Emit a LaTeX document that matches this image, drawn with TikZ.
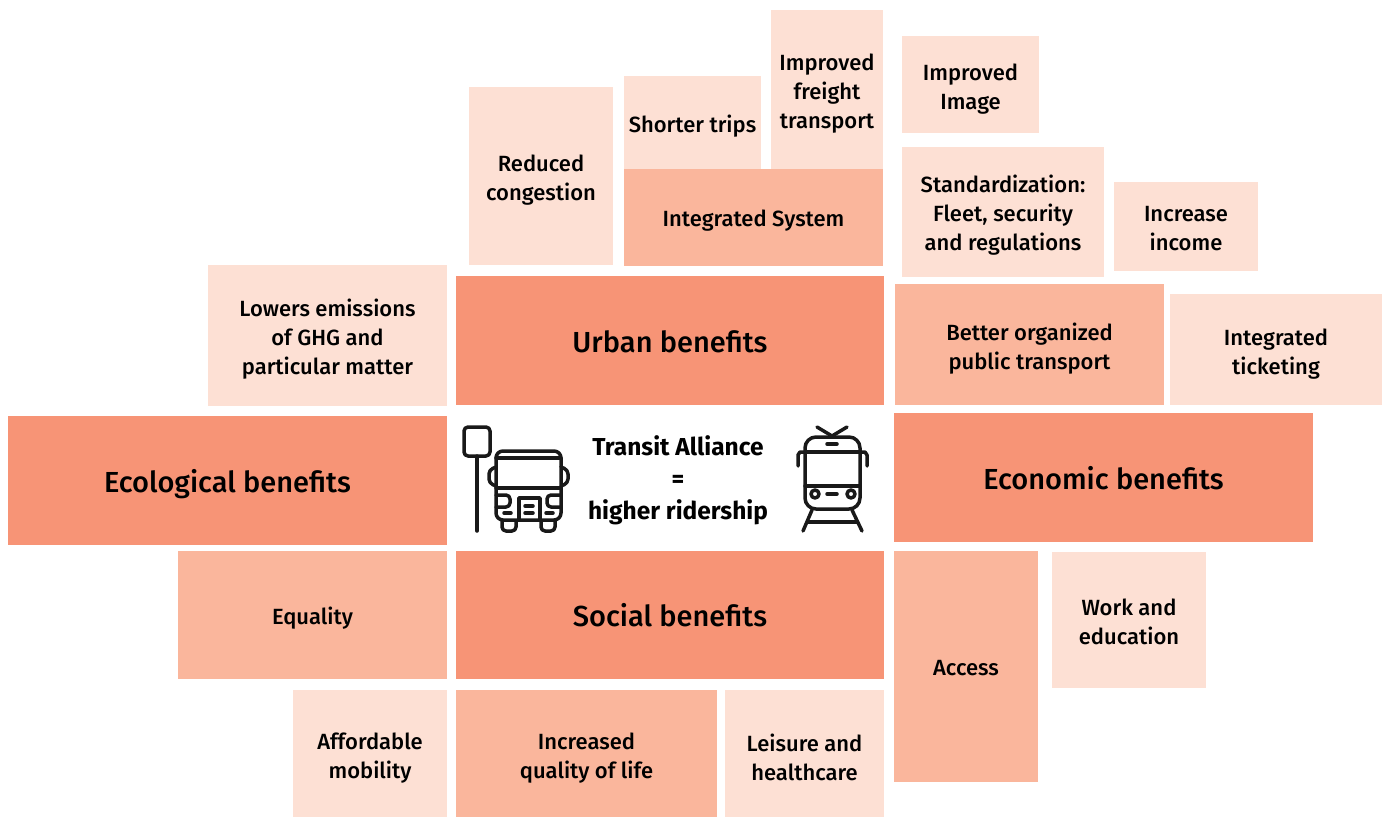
\documentclass[tikz,border=0pt]{standalone}
\usepackage{fontspec}
\setmainfont{Fira Sans Medium}[BoldFont={Fira Sans Bold}]
\usetikzlibrary{positioning}
\definecolor{topcol}{RGB}{247,148,118}
\definecolor{midcol}{RGB}{250,182,156}
\definecolor{lowcol}{RGB}{253,224,212}
\tikzset{
    block/.style 2 args={
           rectangle,
           minimum width=#1pt,
           minimum height=#2pt,
           inner sep=0pt,
           outer sep=0pt,
           align=center,
           text=black,
           },
    drop/.style={execute at begin node={\rule{0pt}{#1pt}}},
    topbox/.style={fill=topcol, font=\fontsize{29}{36}\selectfont},
    midbox/.style={fill=midcol, font=\fontsize{22}{29}\selectfont},
    lowbox/.style={fill=lowcol, font=\fontsize{22}{29}\selectfont},
    icon/.style={draw=black!90, line width=3.5pt, line cap=round, line join=round},
}

\begin{document}
\begin{tikzpicture}[x=1pt,y=-1pt]
    \useasboundingbox (0,0) rectangle (1386,817);
    \node[topbox,block={428}{129},drop=24] (urban) at (670,340.5) {Urban benefits};
    \node[topbox,block={439}{129},drop=31] (ecological) [below left=11pt and 9pt of urban.south west] {Ecological benefits};
    \node[topbox,block={419}{129},drop=23.5] (economic) [below right=8pt and 10pt of urban.south east] {Economic benefits};
    \node[topbox,block={428}{128},drop=23.5] (social) [below right=6pt and 9pt of ecological.south east] {Social benefits};

    \node[midbox,block={259}{97},drop=22] (integrated) [above left=10pt and 1pt of urban.north east] {Integrated System};
    \node[lowbox,block={112}{159},drop=82] (freight) [above left=0pt and 0pt of integrated.north east] {Improved\\freight\\transport};
    \node[lowbox,block={137}{93},drop=24] (shorter) [above right=0pt and 0pt of integrated.north west] {Shorter trips};
    \node[lowbox,block={144}{178},drop=54] (congestion) [above left=1pt and 11pt of integrated.south west] {Reduced\\congestion};
    \node[lowbox,block={239}{141},drop=82] (emissions) [above left=-1pt and 9pt of urban.south west] {Lowers emissions\\of GHG and\\particular matter};

    \node[midbox,block={269}{121},drop=54] (organized) [above right=8pt and 1pt of economic.north west] {Better organized\\public transport};
    \node[lowbox,block={212}{111},drop=54] (ticketing) [above right=0pt and 6pt of organized.south east] {Integrated\\ticketing};
    \node[lowbox,block={202}{130},drop=81] (standard) [above right=7pt and 7pt of organized.north west] {Standardization:\\Fleet, security\\and regulations};
    \node[lowbox,block={137}{97},drop=54] (image) [above right=14pt and 0pt of standard.north west] {Improved\\Image};
    \node[lowbox,block={144}{89},drop=48] (income) [above right=6pt and 10pt of standard.south east] {Increase\\income};

    \node[midbox,block={269}{128},drop=24] (equality) [below left=6pt and 0pt of ecological.south east] {Equality};
    \node[lowbox,block={154}{127},drop=54] (affordable) [below left=11pt and 0pt of equality.south east] {Affordable\\mobility};
    \node[midbox,block={261}{127},drop=54] (quality) [below right=11pt and 0pt of social.south west] {Increased\\quality of life};
    \node[lowbox,block={159}{127},drop=54] (leisure) [below left=11pt and 0pt of social.south east] {Leisure and\\healthcare};
    \node[midbox,block={144}{231},drop=18] (access) [below right=9pt and 0pt of economic.south west] {Access};
    \node[lowbox,block={154}{136},drop=50] (work) [below right=1pt and 14pt of access.north east] {Work and\\education};

    \node[align=center, inner sep=0pt, font=\fontsize{24.5}{32}\selectfont\bfseries] (alliance) at (678,480) {Transit Alliance\\=\\higher ridership};

    \draw[icon, rounded corners=4pt] (464,427) rectangle (490,456);
    \draw[icon] (477,456) -- (477,531);
    \draw[icon, rounded corners=7pt] (496,520) -- (496,451) -- (561,451) -- (561,520) -- cycle;
    \draw[icon] (496,458) -- (561,458);
    \draw[icon] (496,488) -- (561,488);
    \draw[icon, rounded corners=4pt] (496,467) -- (489,470) -- (489,483) -- (496,486);
    \draw[icon, rounded corners=4pt] (561,467) -- (568,470) -- (568,483) -- (561,486);
    \draw[icon, rounded corners=4pt] (502,521) -- (502,531) -- (516,531) -- (516,521);
    \draw[icon, rounded corners=4pt] (541,521) -- (541,531) -- (555,531) -- (555,521);
    \draw[icon] (519,520) -- (519,498) -- (540,498) -- (540,520);
    \draw[icon] (525,506) -- (533,506);
    \draw[icon] (525,513) -- (533,513);
    \draw[icon] (504,513) -- (511,513);
    \draw[icon] (546,513) -- (553,513);
    \draw[icon, rounded corners=4pt] (496,495) -- (510,495) -- (510,507) -- (496,507);
    \draw[icon, rounded corners=4pt] (561,495) -- (547,495) -- (547,507) -- (561,507);

    \draw[icon, rounded corners=11pt] (805,452) -- (805,437) -- (860,437) -- (860,509) -- (805,509) -- (805,452);
    \draw[icon] (805,452) -- (860,452);
    \draw[icon] (805,486) -- (860,486);
    \draw[icon] (798,466) -- (798,455) -- (800,452) -- (805,452);
    \draw[icon] (867,466) -- (867,455) -- (865,452) -- (860,452);
    \draw[icon] (817,427) -- (832,436) -- (847,427);
    \draw[icon] (827,444) -- (837,444);
    \draw[icon] (827,494) -- (837,494);
    \draw[icon] (815,494) circle (4pt);
    \draw[icon] (851,494) circle (4pt);
    \draw[icon] (812,510) -- (803,531);
    \draw[icon] (852,510) -- (862,531);
    \draw[icon] (808,522) -- (857,522);
\end{tikzpicture}
\end{document}
